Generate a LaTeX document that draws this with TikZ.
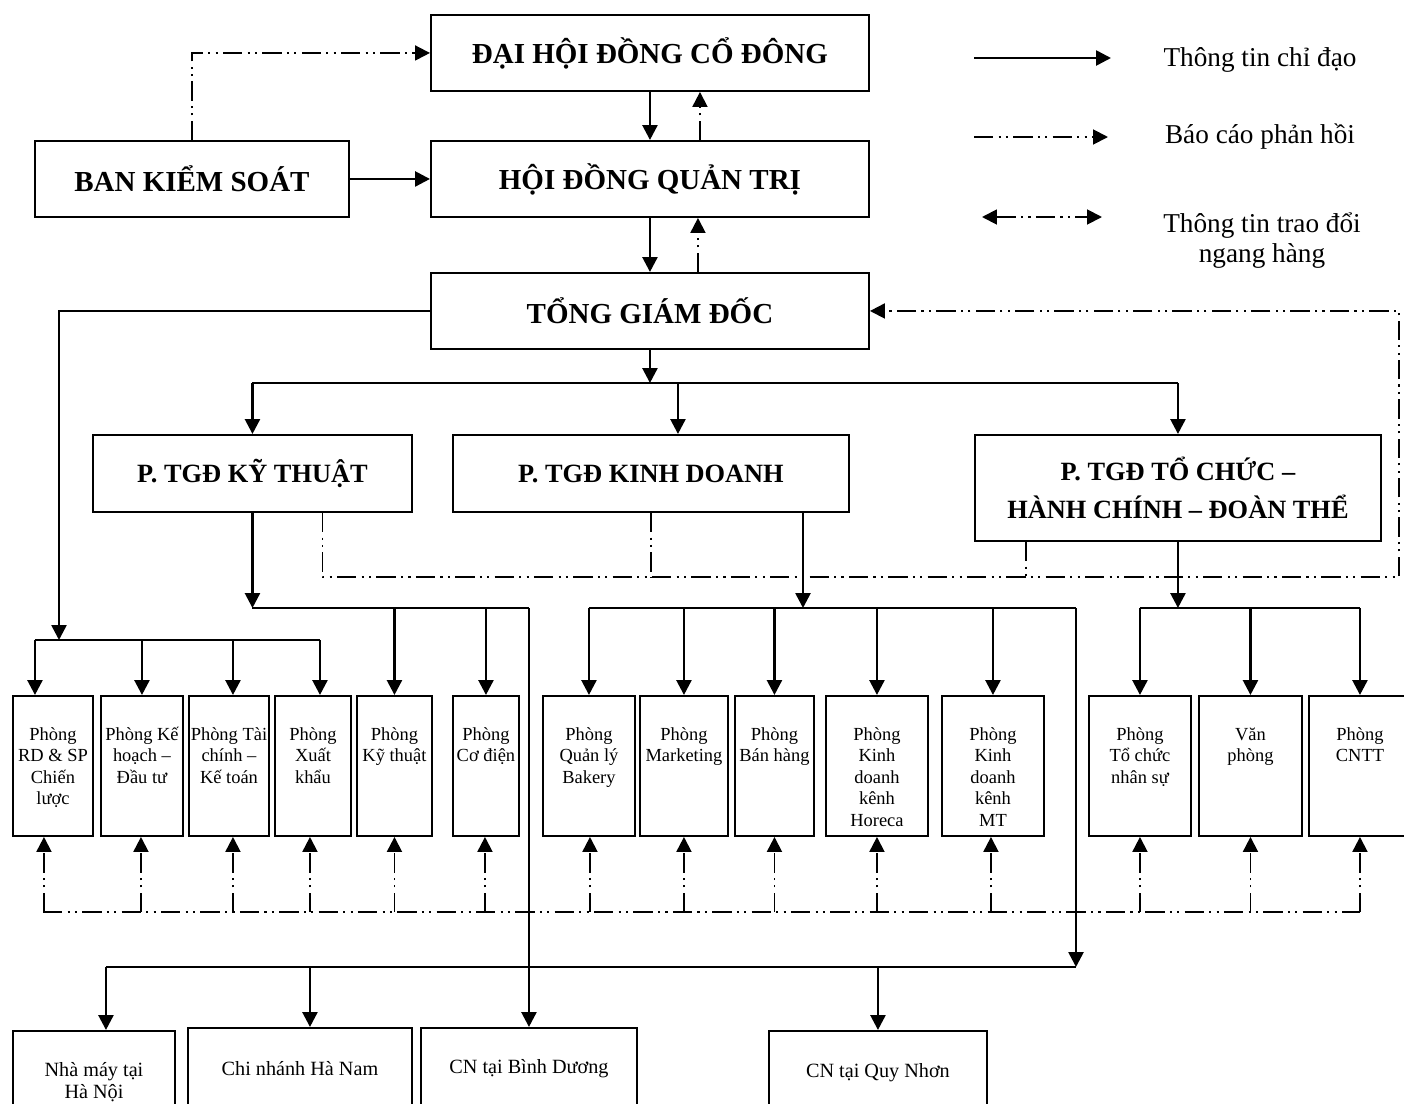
\documentclass[tikz,border=0pt]{standalone}
\usepackage{fontspec}
\setmainfont{Liberation Serif}
\usetikzlibrary{arrows.meta,positioning}
\newdimen\pxu \pxu=0.2mm
% department box content: fixed size, text from the top
\newcommand{\cell}[2]{\vbox to 140\pxu{\hsize=#1\pxu\centering\vskip 29\pxu\strut #2\par\vfil}}
\tikzset{
  boxsize/.style 2 args={minimum width=#1\pxu,minimum height=#2\pxu},
  board/.style={draw,line width=1.1pt,anchor=north west,inner sep=0pt,
    font=\bfseries\fontsize{16.5}{20}\selectfont},
  deputy/.style={board,align=center,font=\bfseries\fontsize{15}{21.7}\selectfont},
  dept/.style={draw,line width=1.1pt,anchor=north west,inner sep=0pt,
    font=\fontsize{10.5}{12.3}\selectfont},
  site/.style={draw,line width=1.1pt,anchor=north west,inner sep=0pt,align=center,
    font=\fontsize{11.5}{12.5}\selectfont},
  legend/.style={align=center,font=\fontsize{15.5}{17}\selectfont},
  tip/.tip={Triangle[length=8.5pt,width=8.5pt]},
  link/.style={line width=1.5pt},
  order/.style={link,-tip},
  reportline/.style={line width=1.1pt,dash pattern=on 11pt off 3pt on 1.2pt off 3pt on 1.2pt off 3pt},
  report/.style={reportline,-tip},
  peer/.style={reportline,tip-tip}
}
\begin{document}
\begin{tikzpicture}[x=0.2mm,y=-0.2mm]
\useasboundingbox (0,0) rectangle (1404,1104);
\clip (0,0) rectangle (1404,1104);

% top levels
\node[board,boxsize={438}{76}] (dhcd) at (430,14) {ĐẠI HỘI ĐỒNG CỔ ĐÔNG};
\node[board,boxsize={314}{76}] (bks) at (34,140) {BAN KIỂM SOÁT};
\node[board,boxsize={438}{76}] (hdqt) at (430,140) {HỘI ĐỒNG QUẢN TRỊ};
\node[board,boxsize={438}{76}] (tgd) at (430,272) {TỔNG GIÁM ĐỐC};

% deputies
\node[deputy,boxsize={319}{77}] (pkt) at (92,434) {P. TGĐ KỸ THUẬT};
\node[deputy,boxsize={396}{77}] (pkd) at (452,434) {P. TGĐ KINH DOANH};
\node[deputy,boxsize={406}{106}] (ptc) at (974,434) {P. TGĐ TỔ CHỨC --\\HÀNH CHÍNH -- ĐOÀN THỂ};

% departments
\node[dept] (rd) at (12,695) {\cell{80}{Phòng\\RD \& SP\\Chiến\\lược}};
\node[dept] (kh) at (100,695) {\cell{82}{Phòng Kế\\hoạch --\\Đầu tư}};
\node[dept] (tc) at (188,695) {\cell{80}{Phòng Tài\\chính --\\Kế toán}};
\node[dept] (xk) at (274,695) {\cell{76}{Phòng\\Xuất\\khẩu}};
\node[dept] (kt) at (356,695) {\cell{75}{Phòng\\Kỹ thuật}};
\node[dept] (cd) at (452,695) {\cell{66}{Phòng\\Cơ điện}};
\node[dept] (qlb) at (542,695) {\cell{92}{Phòng\\Quản lý\\Bakery}};
\node[dept] (mkt) at (639,695) {\cell{88}{Phòng\\Marketing}};
\node[dept] (bh) at (734,695) {\cell{79}{Phòng\\Bán hàng}};
\node[dept] (hrc) at (825,695) {\cell{102}{Phòng\\Kinh\\doanh\\kênh\\Horeca}};
\node[dept] (mt) at (941,695) {\cell{102}{Phòng\\Kinh\\doanh\\kênh\\MT}};
\node[dept] (tcns) at (1088,695) {\cell{102}{Phòng\\Tổ chức\\nhân sự}};
\node[dept] (vp) at (1198,695) {\cell{103}{Văn\\phòng}};
\node[dept] (cntt) at (1308,695) {\cell{102}{Phòng\\CNTT}};

% factories and branches
\node[site,boxsize={162}{102}] (nmhn) at (12,1030) {Nhà máy tại\\Hà Nội};
\node[site,boxsize={224}{82}] (cnhn) at (187,1027) {Chi nhánh Hà Nam};
\node[site,boxsize={216}{82}] (cnbd) at (420,1027) {CN tại Bình Dương};
\node[site,boxsize={218}{84}] (cnqn) at (768,1030) {CN tại Quy Nhơn};

% legend
\coordinate (lg1a) at (974,58); \coordinate (lg1b) at (1111,58);
\coordinate (lg2a) at (974,137); \coordinate (lg2b) at (1108,137);
\coordinate (lg3a) at (982,217); \coordinate (lg3b) at (1102,217);
\node[legend] (lg1) at (1260,60) {Thông tin chỉ đạo};
\node[legend] (lg2) at (1260,137) {Báo cáo phản hồi};
\node[legend] (lg3) at (1262,241) {Thông tin trao đổi\\ngang hàng};
\draw[order] (lg1a) -- (lg1b);
\draw[report] (lg2a) -- (lg2b);
\draw[peer] (lg3a) -- (lg3b);

% junctions
\coordinate (jdep) at (650,383);
\coordinate (jstaff) at (59,640);
\coordinate (jkt) at (251,608);
\coordinate (jkd) at (803,608);
\coordinate (jtc) at (1177,608);
\coordinate (jsite) at (1076,967);
\coordinate (jfb) at (1399,577);
\coordinate (jpeer) at (43,912);

% top levels
\draw[report] (bks.north) |- (dhcd.west);
\draw[order] (bks) -- (hdqt);
\draw[order] (dhcd) -- (hdqt);
\draw[report] ([xshift=50\pxu]hdqt.north) -- ([xshift=50\pxu]dhcd.south);
\draw[order] (hdqt) -- (tgd);
\draw[report] ([xshift=48\pxu]tgd.north) -- ([xshift=48\pxu]hdqt.south);

% general director to deputies
\draw[order] (tgd.south) -- (tgd.south |- jdep);
\draw[link] (pkt.north |- jdep) -- (ptc.north |- jdep);
\draw[order] (pkt.north |- jdep) -- (pkt.north);
\draw[order] ([xshift=27\pxu]pkd.north |- jdep) -- ([xshift=27\pxu]pkd.north);
\draw[order] (ptc.north |- jdep) -- (ptc.north);

% general director to staff departments
\draw[order] (tgd.west) -| (jstaff);
\draw[link] ([xshift=-18\pxu]rd.north |- jstaff) -- ([xshift=7\pxu]xk.north |- jstaff);
\foreach \d/\s in {rd/-18,kh/0,tc/4,xk/7}
  \draw[order] ([xshift=\s\pxu]\d.north |- jstaff) -- ([xshift=\s\pxu]\d.north);

% technical
\draw[order] (pkt.south) -- (pkt.south |- jkt);
\draw[link] (pkt.south |- jkt) -- (cnbd.north |- jkt);
\foreach \d in {kt,cd}
  \draw[order] (\d.north |- jkt) -- (\d.north);
\draw[order] (cnbd.north |- jkt) -- (cnbd.north);

% business
\draw[order] (pkd.south -| jkd) -- (jkd);
\draw[link] (qlb.north |- jkd) -- (jsite |- jkd);
\foreach \d in {qlb,mkt,bh,hrc,mt}
  \draw[order] (\d.north |- jkd) -- (\d.north);
\draw[order] (jsite |- jkd) -- (jsite);
\draw[link] ([xshift=12\pxu]nmhn.north |- jsite) -- (jsite);
\foreach \d/\s in {nmhn/12,cnhn/10,cnqn/0}
  \draw[order] ([xshift=\s\pxu]\d.north |- jsite) -- ([xshift=\s\pxu]\d.north);

% organisation
\draw[order] (ptc.south) -- (ptc.south |- jtc);
\draw[link] (tcns.north |- jtc) -- (cntt.north |- jtc);
\foreach \d in {tcns,vp,cntt}
  \draw[order] (\d.north |- jtc) -- (\d.north);

% reports to the general director
\draw[report] ([xshift=70\pxu]pkt.south) |- (jfb) |- (tgd.east);
\draw[reportline] (pkd.south) -- (pkd.south |- jfb);
\draw[reportline] ([xshift=-152\pxu]ptc.south) -- ([xshift=-152\pxu]ptc.south |- jfb);

% exchange between departments
\draw[reportline] (jpeer) -- (cntt.south |- jpeer);
\foreach \d/\s in {rd/-9,kh/-1,tc/4,xk/-3,kt/0,cd/-1,qlb/1,mkt/0,bh/0,hrc/0,mt/-2,tcns/0,vp/0,cntt/0}
  \draw[report] ([xshift=\s\pxu]\d.south |- jpeer) -- ([xshift=\s\pxu]\d.south);
\end{tikzpicture}
\end{document}
